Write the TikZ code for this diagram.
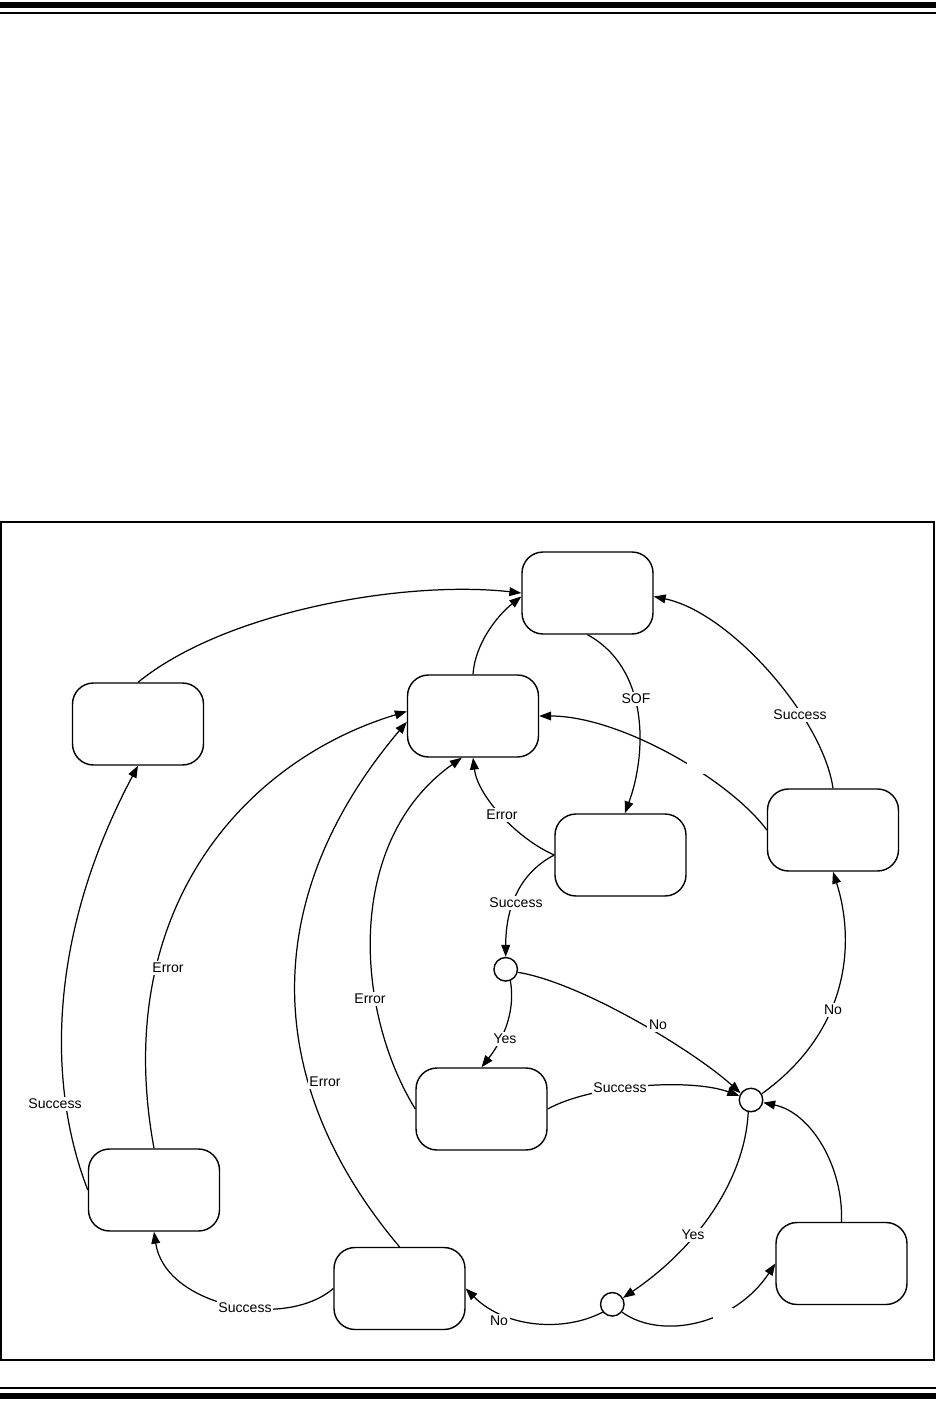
\documentclass[tikz,border=0pt]{standalone}
\usepackage{fontspec}
\setmainfont{Liberation Sans}
\usetikzlibrary{arrows.meta}

\tikzset{
  state/.style={draw, line width=0.8pt, rounded corners=0.42cm,
    minimum width=2.62cm, minimum height=1.64cm, inner sep=0pt},
  junct/.style={draw, line width=0.8pt, circle, minimum size=0.47cm, inner sep=0pt},
  trans/.style={line width=0.7pt, -{Triangle[length=6.8pt,width=5pt]}},
  lbl/.style={fill=white, inner sep=1pt, font=\fontsize{8}{9.6}\selectfont},
  gap/.style={fill=white, minimum size=0.4cm, inner sep=0pt},
}

\begin{document}
\begin{tikzpicture}[x=0.02cm, y=-0.02cm]
  % page and rules
  \useasboundingbox (0,0) rectangle (936,1415);
  \fill (0,2) rectangle (936,8);
  \fill (0,12) rectangle (936,14);
  \fill (0,1387) rectangle (936,1389);
  \fill (0,1393) rectangle (936,1399);
  \draw[line width=0.7pt] (1,522) rectangle (934,1360);

  % states
  \node[state] (top) at (587.5,593) {};
  \node[state] (center) at (473,716) {};
  \node[state] (farleft) at (138,724) {};
  \node[state] (check) at (620.5,855) {};
  \node[state] (right) at (833,830) {};
  \node[state] (lower) at (481.5,1109) {};
  \node[state] (left) at (154,1190) {};
  \node[state] (bottom) at (399.5,1288.5) {};
  \node[state] (corner) at (841.5,1263.5) {};

  % choice points
  \node[junct] (j1) at (505.7,969.3) {};
  \node[junct] (j2) at (751,1100) {};
  \node[junct] (j3) at (612.3,1304.3) {};

  % transitions
  \draw[trans] (farleft.north) .. controls +(87,-71) and +(-117,-13) .. (top.west);
  \draw[trans] (center.north) .. controls +(2,-30) and +(-25,20) .. (top.183);
  \draw[trans] (top.south) .. controls +(62,34) and +(22,-60) .. (check.84);
  \draw[trans] (right.north) .. controls +(-10,-70) and +(77,16) .. (top.357);
  \draw[trans] (right.west) .. controls +(-37,-50) and +(81,0) .. (center.east);
  \draw[trans] (check.west) .. controls +(-35,-15) and +(5,40) .. (center.south);
  \draw[trans] (check.west) .. controls +(-33,17) and +(0,-52) .. (j1.north);
  \draw[trans] (j1.-68) .. controls +(6,35) and +(18,-23) .. (lower.north);
  \draw[trans] (j1.-14) .. controls +(63,10) and +(-46,-42) .. (j2.147);
  \draw[trans] (lower.east) .. controls +(43,-24) and +(-50,-18) .. (j2.160);
  \draw[trans] (j2.30) .. controls +(89,-64) and +(22,69) .. (right.south);
  \draw[trans] (corner.north) .. controls +(2,-55) and +(48,10) .. (j2.-12);
  \draw[trans] (j2.-103) .. controls +(-3,64) and +(78,-53) .. (j3.31);
  \draw[trans] (j3.219) .. controls +(-38,20) and +(40,40) .. (bottom.east);
  \draw[trans] (j3.-39) .. controls +(39,28) and +(-41,62) .. (corner.west);
  \draw[trans] (bottom.west) .. controls +(-49,42) and +(11,74) .. (left.south);
  \draw[trans] (bottom.north) .. controls +(-135,-160) and +(-152,180) .. (center.185);
  \draw[trans] (left.north) .. controls +(-44,-239) and +(-162,49) .. (center.176);
  \draw[trans] (lower.west) .. controls +(-61,-99) and +(-117,83) .. (center.255);
  \draw[trans] (left.west) .. controls +(-39,-100) and +(-93,175) .. (farleft.south);

  % breaks in two lines
  \node[gap] (gapr) at (697,764) {};
  \node[gap] (gapb) at (722.5,1318) {};

  % labels
  \node[lbl] (lsof) at (636,699) {SOF};
  \node[lbl] (lok1) at (800,715) {Success};
  \node[lbl] (lerr1) at (502,815) {Error};
  \node[lbl] (lok2) at (516,903) {Success};
  \node[lbl] (lyes1) at (505,1039) {Yes};
  \node[lbl] (lno1) at (658,1025) {No};
  \node[lbl] (lok3) at (620,1088) {Success};
  \node[lbl] (lno2) at (833,1010) {No};
  \node[lbl] (lyes2) at (693,1235) {Yes};
  \node[lbl] (lno3) at (499,1321) {No};
  \node[lbl] (lok4) at (245,1308) {Success};
  \node[lbl] (lerr2) at (325,1082) {Error};
  \node[lbl] (lerr3) at (370,999) {Error};
  \node[lbl] (lerr4) at (168,968) {Error};
  \node[lbl] (lok5) at (55,1104) {Success};
\end{tikzpicture}
\end{document}
